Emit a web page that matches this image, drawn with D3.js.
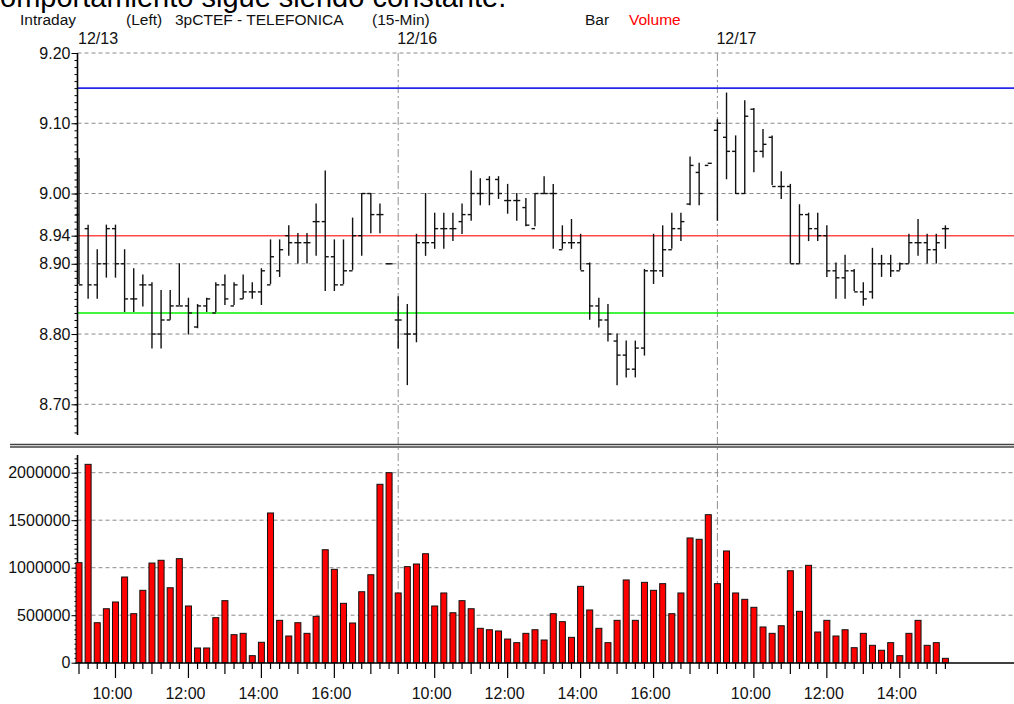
<!DOCTYPE html>
<html>
<head>
<meta charset="utf-8">
<script src="https://cdnjs.cloudflare.com/ajax/libs/d3/7.8.5/d3.min.js"></script>
<style>
  body { margin: 0; background: #fff; }
  svg { display: block; font-family: Arial, "Liberation Sans", sans-serif; }
</style>
</head>
<body>
<div id="chart"></div>
<script>
// chart size
var width = 1014, height = 704;

// sessions
var dayLabels = ["12/13", "12/16", "12/17"];
var dayBars = [35, 35, 26];          // 15-min bars per session (from 9:00)
var hourLabels = ["10:00", "12:00", "14:00", "16:00"];

// 15-min OHLC
var opens  = [8.97,8.95,8.87,8.90,8.95,8.90,8.85,8.87,8.87,8.80,8.82,8.84,8.84,8.81,8.84,8.83,8.87,8.84,8.85,8.86,8.86,8.87,8.89,8.94,8.93,8.93,8.96,8.96,8.91,8.87,8.89,8.94,9.00,8.97,8.90,
              8.82,8.80,8.80,8.93,8.93,8.95,8.95,8.96,8.97,9.00,9.02,9.02,8.99,8.99,8.98,8.95,9.00,9.00,8.92,8.93,8.93,8.90,8.84,8.82,8.79,8.77,8.75,8.78,8.89,8.89,
              8.92,8.95,8.985,9.03,9.04,9.09,9.08,9.06,9.00,9.12,9.06,9.08,9.01,9.01,8.90,8.97,8.95,8.94,8.89,8.88,8.89,8.86,8.86,8.90,8.90,8.89,8.90,8.93,8.93,8.92,8.95];
var highs  = [9.05,8.955,8.92,8.955,8.955,8.92,8.893,8.884,8.873,8.862,8.862,8.90,8.851,8.842,8.851,8.873,8.884,8.873,8.884,8.873,8.893,8.934,8.934,8.954,8.943,8.943,8.985,9.032,8.934,8.934,8.965,9.00,9.00,8.985,8.90,
              8.853,8.842,8.942,9.00,8.972,8.972,8.972,8.985,9.032,9.021,9.024,9.024,9.013,9.00,8.993,9.00,9.024,9.013,8.954,8.963,8.942,8.901,8.851,8.842,8.80,8.79,8.79,8.892,8.942,8.954,
              8.972,8.972,9.052,9.043,9.043,9.105,9.143,9.082,9.132,9.121,9.091,9.082,9.031,9.013,8.984,8.972,8.972,8.954,8.901,8.912,8.892,8.873,8.922,8.912,8.912,8.901,8.942,8.963,8.942,8.942,8.954];
var lows   = [8.872,8.851,8.851,8.881,8.881,8.832,8.832,8.84,8.78,8.78,8.821,8.842,8.80,8.809,8.832,8.832,8.842,8.842,8.851,8.851,8.842,8.872,8.882,8.912,8.901,8.901,8.912,8.862,8.862,8.872,8.892,8.912,8.944,8.944,8.90,
              8.78,8.728,8.789,8.912,8.922,8.922,8.933,8.943,8.962,8.984,8.984,8.993,8.972,8.962,8.954,8.954,9.00,8.922,8.922,8.922,8.892,8.821,8.81,8.79,8.728,8.739,8.739,8.77,8.872,8.882,
              8.922,8.933,8.984,8.984,9.043,8.962,9.021,9.00,9.00,9.031,9.052,9.013,8.993,8.901,8.901,8.933,8.933,8.882,8.851,8.851,8.862,8.841,8.851,8.882,8.882,8.892,8.901,8.912,8.901,8.901,8.922];
var closes = [8.87,8.87,8.90,8.95,8.90,8.85,8.85,8.87,8.80,8.82,8.84,8.84,8.83,8.84,8.85,8.87,8.85,8.87,8.86,8.86,8.89,8.91,8.92,8.93,8.93,8.93,8.96,8.91,8.87,8.89,8.94,9.00,8.97,8.97,8.90,
              8.82,8.80,8.93,8.93,8.95,8.95,8.95,8.97,9.00,9.00,9.00,9.00,8.99,8.99,8.955,9.00,9.00,9.00,8.93,8.93,8.89,8.84,8.82,8.80,8.77,8.75,8.78,8.89,8.89,8.92,
              8.95,8.96,9.04,9.00,9.043,9.10,9.06,9.00,9.11,9.06,9.07,9.01,9.01,8.90,8.97,8.95,8.94,8.89,8.88,8.89,8.86,8.85,8.90,8.90,8.89,8.90,8.93,8.93,8.92,8.93,8.95];

// 15-min volume
var volumes = [1053000,2088000,421000,568000,639000,902000,516000,762000,1049000,1078000,789000,1095000,597000,155000,155000,474000,653000,295000,309000,74000,215000,1576000,446000,281000,421000,309000,488000,1189000,983000,625000,418000,747000,926000,1878000,2000000,
               734000,1011000,1039000,1147000,597000,734000,526000,653000,568000,362000,347000,334000,249000,211000,309000,347000,239000,516000,432000,267000,804000,555000,362000,211000,446000,871000,446000,846000,762000,832000,
               516000,734000,1313000,1299000,1558000,832000,1176000,734000,667000,583000,376000,309000,389000,968000,541000,1025000,323000,446000,281000,347000,158000,309000,183000,131000,211000,74000,309000,446000,183000,211000,46000];

// reference levels
var levelValues = [9.15, 8.94, 8.83];
var levelColors = ["#2626e8", "#ff4a4a", "#00f000"];
var priceTicks = [9.20, 9.10, 9.00, 8.94, 8.90, 8.80, 8.70];
var priceGrid = [9.20, 9.10, 9.00, 8.90, 8.80, 8.70];
var volTicks = [0, 500000, 1000000, 1500000, 2000000];

var nBars = volumes.length;
var bars = [];
var dayStart = [];
var k = 0;
for (var d = 0; d < dayBars.length; d++) {
  dayStart.push(k);
  for (var j = 0; j < dayBars[d]; j++) {
    bars.push({i: k, day: d, minutes: 540 + j * 15,
               o: opens[k], h: highs[k], l: lows[k], c: closes[k], v: volumes[k]});
    k++;
  }
}

var x = d3.scaleLinear().domain([0, nBars - 1]).range([79, 945.4]);
var yP = d3.scaleLinear().domain([8.70, 9.20]).range([404.3, 53]);
var yV = d3.scaleLinear().domain([0, 2000000]).range([662.7, 472.7]);
var axisX = 77.5, right = 1014;

var svg = d3.select("#chart").append("svg")
  .attr("width", width).attr("height", height);

// clipped caption text at the very top
svg.append("text").attr("x", -14.5).attr("y", 7)
  .attr("font-size", 29).attr("fill", "#000")
  .text("comportamiento sigue siendo constante.");

// header
var header = [
  {t: "Intraday", x: 20, c: "#111"},
  {t: "(Left)", x: 126, c: "#111"},
  {t: "3pCTEF - TELEFONICA", x: 175, c: "#111"},
  {t: "(15-Min)", x: 372, c: "#111"},
  {t: "Bar", x: 585, c: "#111"},
  {t: "Volume", x: 629, c: "#ff0000"}
];
svg.selectAll(".hdr").data(header).enter().append("text")
  .attr("class", "hdr")
  .attr("x", d => d.x).attr("y", 25)
  .attr("font-size", 15.5).attr("fill", d => d.c)
  .text(d => d.t);

// date labels
svg.selectAll(".day").data(dayLabels).enter().append("text")
  .attr("class", "day")
  .attr("x", (d, i) => x(dayStart[i]) - 1).attr("y", 44)
  .attr("font-size", 16).attr("fill", "#111")
  .text(d => d);

// price grid
svg.selectAll(".pgrid").data(priceGrid).enter().append("line")
  .attr("x1", axisX).attr("x2", right)
  .attr("y1", d => yP(d)).attr("y2", d => yP(d))
  .attr("stroke", "#8a8a8a").attr("stroke-dasharray", "4,3");

// volume grid
svg.selectAll(".vgrid").data(volTicks.slice(1)).enter().append("line")
  .attr("x1", axisX).attr("x2", right)
  .attr("y1", d => yV(d)).attr("y2", d => yV(d))
  .attr("stroke", "#8a8a8a").attr("stroke-dasharray", "4,3");

// session separators
svg.selectAll(".sep").data(dayStart.slice(1)).enter().append("line")
  .attr("x1", d => x(d)).attr("x2", d => x(d))
  .attr("y1", 53).attr("y2", 662)
  .attr("stroke", "#909090").attr("stroke-dasharray", "8,3,2,3");

// reference levels
svg.selectAll(".lvl").data(levelValues).enter().append("line")
  .attr("x1", axisX).attr("x2", right)
  .attr("y1", d => yP(d)).attr("y2", d => yP(d))
  .attr("stroke", (d, i) => levelColors[i]).attr("stroke-width", 1.6);

// price axis
var pAxis = svg.append("g").attr("transform", "translate(" + axisX + ",0)");
var minor = d3.range(866, 921).map(v => v / 100);
pAxis.append("g")
  .call(d3.axisLeft(yP).tickValues(minor).tickSize(3).tickFormat(""))
  .call(g => g.select(".domain").remove());
pAxis.append("g")
  .call(d3.axisLeft(yP).tickValues(priceTicks).tickSize(6).tickPadding(1).tickFormat(d3.format(".2f")))
  .call(g => g.select(".domain").remove())
  .call(g => g.selectAll("text").attr("font-size", 16).attr("fill", "#111").attr("font-family", "Arial, 'Liberation Sans', sans-serif"));
pAxis.append("line").attr("y1", 53).attr("y2", 435).attr("stroke", "#000").attr("stroke-width", 1.6);
pAxis.selectAll(".tick line").attr("stroke", "#000");

// panel separator
svg.append("line").attr("x1", 10).attr("x2", right).attr("y1", 444.5).attr("y2", 444.5)
  .attr("stroke", "#444").attr("stroke-width", 1.4);
svg.append("line").attr("x1", 10).attr("x2", right).attr("y1", 447).attr("y2", 447)
  .attr("stroke", "#444").attr("stroke-width", 1.4);

// volume axis
var vAxis = svg.append("g").attr("transform", "translate(" + axisX + ",0)");
vAxis.append("g")
  .call(d3.axisLeft(yV).tickValues(d3.range(0, 2200000, 50000)).tickSize(3).tickFormat(""))
  .call(g => g.select(".domain").remove());
vAxis.append("g")
  .call(d3.axisLeft(yV).tickValues(volTicks).tickSize(6).tickPadding(1).tickFormat(d3.format("d")))
  .call(g => g.select(".domain").remove())
  .call(g => g.selectAll("text").attr("font-size", 16).attr("fill", "#111").attr("font-family", "Arial, 'Liberation Sans', sans-serif"));
vAxis.append("line").attr("y1", 455).attr("y2", 663).attr("stroke", "#000").attr("stroke-width", 1.6);
vAxis.selectAll(".tick line").attr("stroke", "#000");

// volume bars
svg.selectAll(".vbar").data(bars).enter().append("rect")
  .attr("x", d => x(d.i) - 3).attr("width", 6)
  .attr("y", d => yV(d.v)).attr("height", d => yV(0) - yV(d.v))
  .attr("fill", "#ff0000").attr("stroke", "#111").attr("stroke-width", 1);

// time axis
svg.append("line").attr("x1", axisX).attr("x2", right).attr("y1", 663).attr("y2", 663)
  .attr("stroke", "#000").attr("stroke-width", 1.4);
svg.selectAll(".tt").data(bars).enter().append("line")
  .attr("x1", d => x(d.i)).attr("x2", d => x(d.i))
  .attr("y1", 663)
  .attr("y2", function(d) {
    if (d.minutes % 60 != 0) return 669;
    return (d.minutes / 60) % 2 == 0 ? 678 : 674;
  })
  .attr("stroke", "#000").attr("stroke-width", 1.2);
var timeLbl = bars.filter(d => d.minutes % 120 == 0 && hourLabels.indexOf((d.minutes / 60) + ":00") >= 0);
svg.selectAll(".tl").data(timeLbl).enter().append("text")
  .attr("x", d => x(d.i) - 3).attr("y", 699)
  .attr("text-anchor", "middle").attr("font-size", 16).attr("fill", "#111")
  .text(d => (d.minutes / 60) + ":00");

// OHLC bars
var ohlc = svg.append("g").attr("stroke", "#111").attr("stroke-width", 1.4);
ohlc.selectAll(".hl").data(bars).enter().append("line")
  .attr("x1", d => x(d.i)).attr("x2", d => x(d.i))
  .attr("y1", d => yP(d.h) - 0.5).attr("y2", d => yP(d.l) + 0.5);
ohlc.selectAll(".op").data(bars).enter().append("line")
  .attr("x1", d => x(d.i) - 3.5).attr("x2", d => x(d.i))
  .attr("y1", d => yP(d.o)).attr("y2", d => yP(d.o));
ohlc.selectAll(".cl").data(bars).enter().append("line")
  .attr("x1", d => x(d.i)).attr("x2", d => x(d.i) + 3.5)
  .attr("y1", d => yP(d.c)).attr("y2", d => yP(d.c));
</script>
</body>
</html>
